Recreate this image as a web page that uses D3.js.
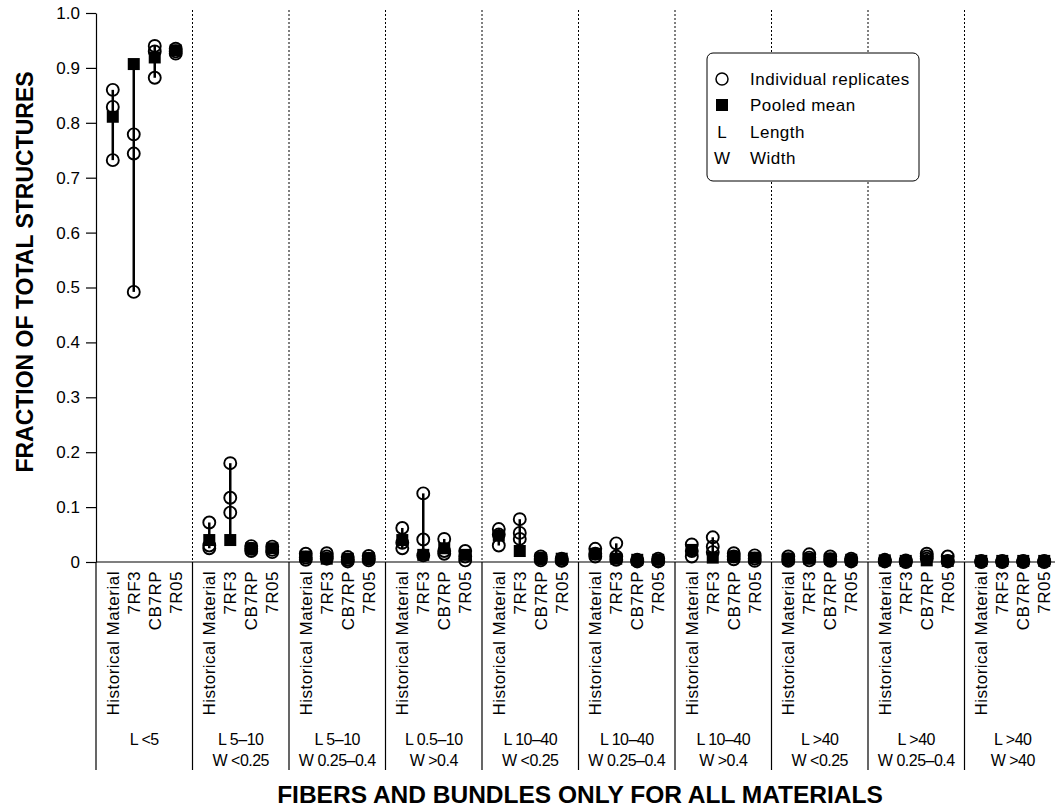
<!DOCTYPE html>
<html>
<head>
<meta charset="utf-8">
<script src="https://cdn.jsdelivr.net/npm/d3@7"></script>
<style>
  body { margin: 0; background: #fff; }
  svg { font-family: "Liberation Sans", Arial, Helvetica, sans-serif; }
</style>
</head>
<body>
<div id="chart"></div>
<script>
// categories
var materials = ["Historical Material", "7RF3", "CB7RP", "7R05"];
var groupLine1 = ["L <5", "L 5\u201310", "L 5\u201310", "L 0.5\u201310", "L 10\u201340", "L 10\u201340", "L 10\u201340", "L >40", "L >40", "L >40"];
var groupLine2 = ["", "W <0.25", "W 0.25\u20130.4", "W >0.4", "W <0.25", "W 0.25\u20130.4", "W >0.4", "W <0.25", "W 0.25\u20130.4", "W >40"];
var yTicks = [0, 0.1, 0.2, 0.3, 0.4, 0.5, 0.6, 0.7, 0.8, 0.9, 1.0];

// pooled means, one value per size class
var meanHistorical = [0.811, 0.040, 0.010, 0.040, 0.048, 0.015, 0.022, 0.006, 0.003, 0.002];
var mean7RF3 = [0.907, 0.040, 0.006, 0.013, 0.020, 0.006, 0.008, 0.006, 0.002, 0.002];
var meanCB7RP = [0.919, 0.025, 0.006, 0.025, 0.007, 0.004, 0.010, 0.006, 0.003, 0.002];
var mean7R05 = [0.932, 0.025, 0.007, 0.013, 0.006, 0.004, 0.008, 0.004, 0.002, 0.002];

// individual replicates, per size class
var repHistorical = [[0.860, 0.829, 0.732], [0.072, 0.030, 0.025], [0.015, 0.008, 0.004], [0.062, 0.035, 0.025], [0.060, 0.050, 0.030],
  [0.024, 0.015, 0.010], [0.032, 0.020, 0.010], [0.010, 0.005, 0.002], [0.004, 0.002, 0.001], [0.002, 0.001, 0.000]];
var rep7RF3 = [[0.779, 0.744, 0.492], [0.180, 0.117, 0.090], [0.016, 0.010, 0.006], [0.125, 0.041, 0.012], [0.078, 0.053, 0.042],
  [0.034, 0.010, 0.004], [0.045, 0.028, 0.018], [0.014, 0.008, 0.003], [0.003, 0.001, 0.000], [0.002, 0.001, 0.000]];
var repCB7RP = [[0.940, 0.930, 0.882], [0.029, 0.024, 0.020], [0.009, 0.004, 0.001], [0.042, 0.020, 0.015], [0.010, 0.006, 0.003],
  [0.004, 0.002, 0.001], [0.016, 0.010, 0.005], [0.010, 0.005, 0.002], [0.015, 0.010, 0.006], [0.002, 0.001, 0.000]];
var rep7R05 = [[0.935, 0.930, 0.926], [0.028, 0.022, 0.018], [0.011, 0.006, 0.003], [0.020, 0.010, 0.003], [0.006, 0.003, 0.002],
  [0.006, 0.002, 0.001], [0.012, 0.006, 0.002], [0.006, 0.003, 0.001], [0.010, 0.002, 0.001], [0.002, 0.001, 0.000]];

var means = [meanHistorical, mean7RF3, meanCB7RP, mean7R05];
var reps = [repHistorical, rep7RF3, repCB7RP, rep7R05];

// set the dimensions and margins of the graph
var W = 1055, H = 811;
var margin = { top: 13, left: 96 };
var groupWidth = 96.5;
var plotBottom = 562;

var svg = d3.select("#chart")
  .append("svg")
  .attr("width", W)
  .attr("height", H);

var groups = d3.range(groupLine1.length);

// scales
var x0 = d3.scaleBand()
  .domain(groups)
  .range([margin.left, margin.left + groupWidth * groups.length]);

var x1 = d3.scalePoint()
  .domain(materials)
  .range([0, groupWidth])
  .padding(0.8);

var y = d3.scaleLinear()
  .domain([0, 1])
  .range([plotBottom, margin.top]);

// build rows: one per group x material
var rows = [];
groups.forEach(function (g) {
  materials.forEach(function (m, i) {
    rows.push({ group: g, material: m, mean: means[i][g], reps: reps[i][g] });
  });
});

// dotted separators in the plot area
svg.selectAll(".sep")
  .data(groups.slice(1))
  .enter()
  .append("line")
  .attr("class", "sep")
  .attr("x1", function (d) { return x0(d); })
  .attr("x2", function (d) { return x0(d); })
  .attr("y1", 10)
  .attr("y2", plotBottom)
  .attr("stroke", "#000")
  .attr("stroke-width", 1)
  .attr("stroke-dasharray", "2,2");

// solid separators under the axis
svg.selectAll(".sepLow")
  .data(groups.concat([groups.length]))
  .enter()
  .append("line")
  .attr("class", "sepLow")
  .attr("x1", function (d) { return margin.left + d * groupWidth; })
  .attr("x2", function (d) { return margin.left + d * groupWidth; })
  .attr("y1", plotBottom)
  .attr("y2", 770)
  .attr("stroke", "#000")
  .attr("stroke-width", 1.2);

// x baseline
svg.append("line")
  .attr("x1", margin.left)
  .attr("x2", W)
  .attr("y1", y(0))
  .attr("y2", y(0))
  .attr("stroke", "#000")
  .attr("stroke-width", 1.2);

// Y axis
var yAxis = d3.axisLeft(y)
  .tickValues(yTicks)
  .tickFormat(function (d) { return d === 0 ? "0" : d3.format(".1f")(d); })
  .tickSize(10)
  .tickSizeOuter(0)
  .tickPadding(6);

var gy = svg.append("g")
  .attr("class", "y axis")
  .attr("transform", "translate(" + margin.left + ",0)")
  .call(yAxis);
gy.select(".domain").attr("stroke-width", 1.2);
gy.selectAll(".tick line").attr("stroke-width", 1.2);
gy.selectAll(".tick text")
  .attr("font-size", 17)
  .attr("fill", "#000");

// marks
var cell = svg.selectAll(".cell")
  .data(rows)
  .enter()
  .append("g")
  .attr("class", "cell")
  .attr("transform", function (d) { return "translate(" + (x0(d.group) + x1(d.material)) + ",0)"; });

cell.append("line")
  .attr("x1", 0)
  .attr("x2", 0)
  .attr("y1", function (d) { return y(d3.max(d.reps.concat([d.mean]))); })
  .attr("y2", function (d) { return y(d3.min(d.reps.concat([d.mean]))); })
  .attr("stroke", "#000")
  .attr("stroke-width", 2.5);

cell.selectAll("circle")
  .data(function (d) { return d.reps; })
  .enter()
  .append("circle")
  .attr("cx", 0)
  .attr("cy", function (v) { return y(v); })
  .attr("r", 6)
  .attr("fill", "none")
  .attr("stroke", "#000")
  .attr("stroke-width", 1.9);

cell.append("rect")
  .attr("x", -6)
  .attr("y", function (d) { return y(d.mean) - 6; })
  .attr("width", 12)
  .attr("height", 12)
  .attr("fill", "#000");

// material labels (rotated)
cell.append("text")
  .attr("transform", "translate(0,571) rotate(-90)")
  .attr("dy", "0.36em")
  .attr("text-anchor", "end")
  .attr("font-size", 17)
  .attr("letter-spacing", 0.5)
  .text(function (d) { return d.material; });

// group labels
var gl = svg.selectAll(".glabel")
  .data(groups)
  .enter()
  .append("g")
  .attr("class", "glabel")
  .attr("transform", function (d) { return "translate(" + (x0(d) + groupWidth / 2) + ",0)"; });
gl.append("text")
  .attr("y", 745)
  .attr("text-anchor", "middle")
  .attr("font-size", 16)
  .attr("letter-spacing", -0.5)
  .text(function (d) { return groupLine1[d]; });
gl.append("text")
  .attr("y", 766)
  .attr("text-anchor", "middle")
  .attr("font-size", 16)
  .attr("letter-spacing", -0.5)
  .text(function (d) { return groupLine2[d]; });

// axis titles
svg.append("text")
  .attr("x", 580)
  .attr("y", 803)
  .attr("text-anchor", "middle")
  .attr("font-size", 24.5)
  .attr("font-weight", "bold")
  .text("FIBERS AND BUNDLES ONLY FOR ALL MATERIALS");

svg.append("text")
  .attr("transform", "translate(33,272) rotate(-90)")
  .attr("text-anchor", "middle")
  .attr("font-size", 23)
  .attr("font-weight", "bold")
  .text("FRACTION OF TOTAL STRUCTURES");

// legend
var legend = svg.append("g").attr("transform", "translate(707,53)");
legend.append("rect")
  .attr("width", 212)
  .attr("height", 128)
  .attr("rx", 6)
  .attr("fill", "#fff")
  .attr("stroke", "#000")
  .attr("stroke-width", 1);

var legendItems = ["Individual replicates", "Pooled mean", "Length", "Width"];
var legendRowY = [26, 52, 79, 105];
legendItems.forEach(function (t, i) {
  var row = legend.append("g").attr("transform", "translate(15," + legendRowY[i] + ")");
  if (i === 0) {
    row.append("circle").attr("r", 6).attr("fill", "none").attr("stroke", "#000").attr("stroke-width", 1.5);
  } else if (i === 1) {
    row.append("rect").attr("x", -6).attr("y", -6).attr("width", 12).attr("height", 12).attr("fill", "#000");
  } else {
    row.append("text")
      .attr("text-anchor", "middle")
      .attr("dy", "0.36em")
      .attr("font-size", 17)
      .text(i === 2 ? "L" : "W");
  }
  row.append("text")
    .attr("x", 28)
    .attr("dy", "0.36em")
    .attr("font-size", 17)
    .attr("letter-spacing", 0.5)
    .text(t);
});
</script>
</body>
</html>
